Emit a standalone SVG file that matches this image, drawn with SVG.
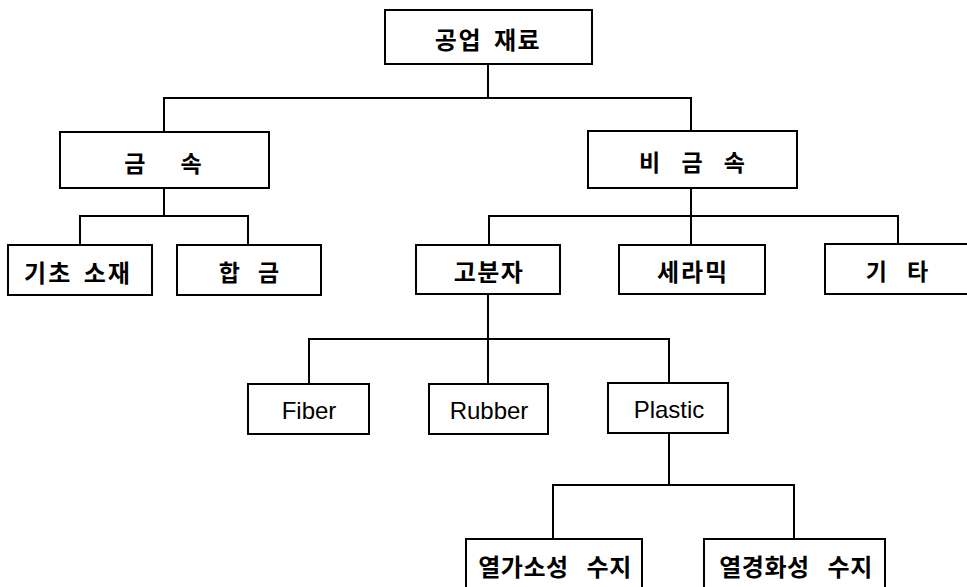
<svg xmlns="http://www.w3.org/2000/svg" width="967" height="587" viewBox="0 0 967 587">
<style>
.box{fill:#fff;stroke:#000;stroke-width:2}
.con{fill:none;stroke:#000;stroke-width:2}
.ko{font-family:"Noto Sans CJK KR","Noto Sans",sans-serif;font-weight:bold;font-size:23px;text-anchor:middle;dominant-baseline:central;fill:#000}
.kw{font-size:24px;letter-spacing:1.5px}
.en{font-family:"Liberation Sans",Arial,sans-serif;font-size:24px;text-anchor:middle;dominant-baseline:central;fill:#000}
</style>
<rect width="967" height="587" fill="#fff"/>
<g id="connectors">
<path class="con" d="M488 64V98M164 132V98H691V131"/>
<path class="con" d="M164 188V216M80 245V216H248V245"/>
<path class="con" d="M691 188V245M489 245V216H898V244"/>
<path class="con" d="M488 294V384M309 384V339H669V383"/>
<path class="con" d="M669 433V485M553 539V485H794V539"/>
</g>
<g id="n-root"><rect class="box" x="385" y="10" width="207" height="54"/><text class="ko kw" x="488" y="38" style="word-spacing:5px">공업 재료</text></g>
<g id="n-metal"><rect class="box" x="60" y="132" width="209" height="56"/><text class="ko" x="163" y="162" style="word-spacing:30px">금 속</text></g>
<g id="n-nonmetal"><rect class="box" x="588" y="131" width="209" height="57"/><text class="ko" x="692" y="161" style="word-spacing:16px">비 금 속</text></g>
<g id="n-base"><rect class="box" x="8" y="245" width="144" height="50"/><text class="ko kw" x="78" y="271" style="letter-spacing:2px;word-spacing:4px">기초 소재</text></g>
<g id="n-alloy"><rect class="box" x="177" y="245" width="144" height="50"/><text class="ko" x="249" y="271" style="word-spacing:13px">합 금</text></g>
<g id="n-polymer"><rect class="box" x="416" y="245" width="144" height="49"/><text class="ko kw" x="489" y="270">고분자</text></g>
<g id="n-ceramic"><rect class="box" x="619" y="245" width="146" height="49"/><text class="ko kw" x="693" y="270" style="letter-spacing:2px">세라믹</text></g>
<g id="n-etc"><rect class="box" x="825" y="244" width="150" height="50"/><text class="ko" x="897" y="270" style="word-spacing:15px">기 타</text></g>
<g id="n-fiber"><rect class="box" x="248" y="384" width="121" height="50"/><text class="en" x="309" y="410">Fiber</text></g>
<g id="n-rubber"><rect class="box" x="429" y="384" width="119" height="50"/><text class="en" x="489" y="410">Rubber</text></g>
<g id="n-plastic"><rect class="box" x="608" y="383" width="120" height="50"/><text class="en" x="669" y="409">Plastic</text></g>
<g id="n-thermoplastic"><rect class="box" x="466" y="539" width="176" height="52"/><text class="ko" x="555" y="565" style="font-size:24px;letter-spacing:0.5px;word-spacing:12px">열가소성 수지</text></g>
<g id="n-thermoset"><rect class="box" x="704" y="539" width="181" height="52"/><text class="ko" x="796" y="565" style="font-size:24px;letter-spacing:0.5px;word-spacing:12px">열경화성 수지</text></g>
</svg>
